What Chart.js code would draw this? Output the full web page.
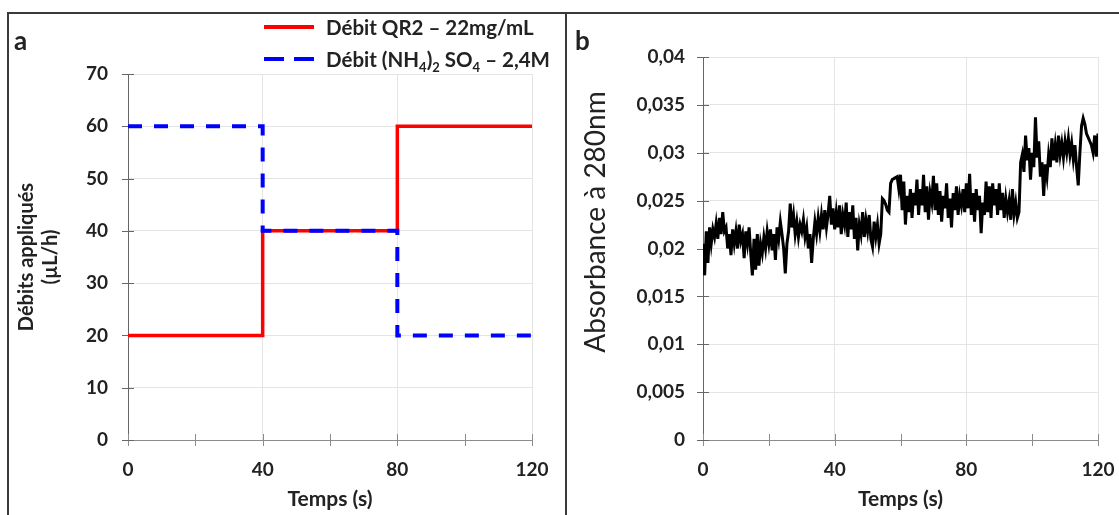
<!DOCTYPE html>
<html>
<head>
<meta charset="utf-8">
<script src="https://cdn.jsdelivr.net/npm/chart.js@4"></script>
<style>
  body { margin: 0; background: #fff; width: 1119px; height: 515px; overflow: hidden; position: relative; font-family: Lato, sans-serif; color: #222; }
  .frame { position: absolute; left: 7px; top: 12px; width: 1112px; height: 503px; border-top: 2px solid #3a3a3a; border-left: 2px solid #3a3a3a; box-sizing: border-box; }
  .divider { position: absolute; left: 565px; top: 12px; width: 2px; height: 503px; background: #3a3a3a; }
  canvas { position: absolute; }
  .tag { position: absolute; font-weight: bold; font-size: 26px; line-height: 26px; }
  .legend { position: absolute; left: 264px; top: 13px; font-weight: bold; font-size: 20.5px; }
  .legend .row { display: flex; align-items: center; height: 28px; margin-bottom: 4px; white-space: nowrap; }
  .legend svg { margin-right: 12px; flex: none; }
  .legend sub { font-size: 13px; line-height: 0; }
  .ytitle { position: absolute; left: 444px; top: 208px; width: 300px; height: 28px; line-height: 28px; font-size: 28px; text-align: center; white-space: nowrap; transform: rotate(-90deg); }
</style>
</head>
<body>
<div class="frame"></div>
<div class="divider"></div>
<canvas id="chartA" width="555" height="501" style="left:9px;top:14px"></canvas>
<canvas id="chartB" width="551" height="501" style="left:568px;top:14px"></canvas>
<div class="tag" style="left:14px;top:27px">a</div>
<div class="tag" style="left:575px;top:27px">b</div>
<div class="legend">
  <div class="row"><svg width="50" height="6"><line x1="0" y1="3" x2="50" y2="3" stroke="#ff0000" stroke-width="4"/></svg><span>Débit QR2 – 22mg/mL</span></div>
  <div class="row"><svg width="50" height="6"><line x1="0" y1="3" x2="50" y2="3" stroke="#0000ff" stroke-width="4" stroke-dasharray="20 10"/></svg><span>Débit (NH<sub>4</sub>)<sub>2</sub> SO<sub>4</sub> – 2,4M</span></div>
</div>
<div class="ytitle">Absorbance à 280nm</div>
<script>
// panel a : applied flow rates
const timeA = [0, 40, 40, 80, 80, 120];
const qr2Flow = [20, 20, 40, 40, 60, 60];
const sulfateFlow = [60, 60, 40, 40, 20, 20];
const yLabelsA = ['0', '10', '20', '30', '40', '50', '60', '70'];
const xLabels = ['0', '', '40', '', '80', '', '120'];

// panel b : absorbance at 280 nm
const absTime = [
  0,0.5,1,1.5,2,2.5,3,3.5,4,4.5,5,5.5,6,6.5,7,7.5,8,8.5,9,9.5,
  10,10.5,11,11.5,12,12.5,13,13.5,14,14.5,15,15.5,16,16.5,17,17.5,18,18.5,19,19.5,
  20,20.5,21,21.5,22,22.5,23,23.5,24,24.5,25,25.5,26,26.5,27,27.5,28,28.5,29,29.5,
  30,30.5,31,31.5,32,32.5,33,33.5,34,34.5,35,35.5,36,36.5,37,37.5,38,38.5,39,39.5,
  40,40.5,41,41.5,42,42.5,43,43.5,44,44.5,45,45.5,46,46.5,47,47.5,48,48.5,49,49.5,
  50,50.5,51,51.5,52,52.5,53,53.5,54,54.5,55,55.5,56,56.5,57,57.5,58,58.5,59,59.5,
  60,60.5,61,61.5,62,62.5,63,63.5,64,64.5,65,65.5,66,66.5,67,67.5,68,68.5,69,69.5,
  70,70.5,71,71.5,72,72.5,73,73.5,74,74.5,75,75.5,76,76.5,77,77.5,78,78.5,79,79.5,
  80,80.5,81,81.5,82,82.5,83,83.5,84,84.5,85,85.5,86,86.5,87,87.5,88,88.5,89,89.5,
  90,90.5,91,91.5,92,92.5,93,93.5,94,94.5,95,95.5,96,96.5,97,97.5,98,98.5,99,99.5,
  100,100.5,101,101.5,102,102.5,103,103.5,104,104.5,105,105.5,106,106.5,107,107.5,108,108.5,109,109.5,
  110,110.5,111,111.5,112,112.5,113,113.5,114,114.5,115,115.5,116,116.5,117,117.5,118,118.5,119,119.5,
  120
];
const absorbance = [
  0.0205,0.0172,0.0218,0.0185,0.0222,0.0205,0.0220,0.0212,0.0226,0.0210,0.0232,0.0215,0.0238,0.0218,0.0222,0.0200,0.0215,0.0193,0.0220,0.0205,
  0.0218,0.0200,0.0225,0.0208,0.0215,0.0190,0.0218,0.0205,0.0222,0.0195,0.0172,0.0210,0.0178,0.0215,0.0182,0.0205,0.0195,0.0212,0.0200,0.0218,
  0.0205,0.0220,0.0198,0.0215,0.0188,0.0222,0.0210,0.0228,0.0215,0.0200,0.0174,0.0205,0.0218,0.0247,0.0222,0.0235,0.0215,0.0228,0.0212,0.0225,
  0.0218,0.0230,0.0212,0.0222,0.0200,0.0215,0.0185,0.0210,0.0228,0.0215,0.0232,0.0218,0.0235,0.0220,0.0240,0.0222,0.0236,0.0255,0.0225,0.0242,
  0.0220,0.0238,0.0222,0.0245,0.0215,0.0235,0.0225,0.0248,0.0212,0.0238,0.0220,0.0245,0.0210,0.0232,0.0198,0.0225,0.0215,0.0238,0.0212,0.0230,
  0.0218,0.0235,0.0210,0.0202,0.0228,0.0212,0.0225,0.0205,0.0215,0.0252,0.0250,0.0246,0.0240,0.0238,0.0268,0.0272,0.0273,0.0274,0.0275,0.0262,
  0.0277,0.0240,0.0270,0.0225,0.0255,0.0238,0.0262,0.0232,0.0258,0.0245,0.0272,0.0235,0.0262,0.0245,0.0277,0.0238,0.0265,0.0230,0.0258,0.0248,
  0.0276,0.0240,0.0268,0.0235,0.0260,0.0228,0.0255,0.0242,0.0268,0.0232,0.0252,0.0222,0.0258,0.0240,0.0265,0.0235,0.0255,0.0245,0.0262,0.0238,
  0.0268,0.0242,0.0278,0.0235,0.0258,0.0228,0.0262,0.0240,0.0255,0.0216,0.0248,0.0235,0.0270,0.0238,0.0265,0.0232,0.0268,0.0245,0.0262,0.0235,
  0.0268,0.0240,0.0258,0.0232,0.0252,0.0238,0.0250,0.0230,0.0262,0.0236,0.0248,0.0232,0.0238,0.0290,0.0298,0.0280,0.0318,0.0292,0.0305,0.0272,
  0.0300,0.0285,0.0337,0.0295,0.0312,0.0275,0.0290,0.0255,0.0288,0.0275,0.0298,0.0285,0.0315,0.0292,0.0308,0.0290,0.0318,0.0298,0.0310,0.0295,
  0.0312,0.0300,0.0315,0.0298,0.0310,0.0293,0.0308,0.0285,0.0266,0.0300,0.0328,0.0336,0.0330,0.0320,0.0316,0.0312,0.0308,0.0300,0.0318,0.0296,
  0.0320
];
const yLabelsB = ['0', '0,005', '0,01', '0,015', '0,02', '0,025', '0,03', '0,035', '0,04'];

Chart.defaults.font.family = 'Lato, sans-serif';
Chart.defaults.color = '#222';

function xy(xs, ys) {
  return xs.map((x, i) => ({ x: x, y: ys[i] }));
}

// tick marks that cross the axis line (Excel style), minor ones included
const crossTicks = {
  id: 'crossTicks',
  beforeDatasetsDraw(chart) {
    const ctx = chart.ctx;
    const xs = chart.scales.x, ys = chart.scales.y;
    ctx.save();
    ctx.lineWidth = 1;
    ctx.strokeStyle = '#8c8c8c';
    xs.ticks.forEach(t => {
      const px = Math.round(xs.getPixelForValue(t.value)) + 0.5;
      ctx.beginPath();
      ctx.moveTo(px, ys.bottom - 6);
      ctx.lineTo(px, ys.bottom + 6);
      ctx.stroke();
    });
    ctx.strokeStyle = '#666';
    ys.ticks.forEach(t => {
      const py = Math.round(ys.getPixelForValue(t.value)) + 0.5;
      ctx.beginPath();
      ctx.moveTo(xs.left - 6, py);
      ctx.lineTo(xs.left + 6, py);
      ctx.stroke();
    });
    ctx.restore();
  }
};

function xScale() {
  return {
    type: 'linear', min: 0, max: 120,
    afterFit(s) { s.height = 75; s.paddingLeft = 0; s.paddingRight = 0; },
    border: { color: '#8c8c8c', width: 1 },
    grid: {
      drawTicks: false,
      color: c => (c.tick && c.tick.value % 40 === 0 && c.tick.value !== 0) ? '#e4e4e4' : 'rgba(0,0,0,0)'
    },
    ticks: {
      stepSize: 20, padding: 18, maxRotation: 0, autoSkip: false,
      font: { size: 19, weight: 'bold' },
      callback: (v, i) => xLabels[i]
    },
    title: { display: true, text: 'Temps (s)', font: { size: 21, weight: 'bold' }, padding: { top: 0, bottom: 3 } }
  };
}

new Chart(document.getElementById('chartA'), {
  type: 'line',
  data: {
    datasets: [{
      label: 'Débit QR2 – 22mg/mL',
      data: xy(timeA, qr2Flow),
      borderColor: '#ff0000', borderWidth: 3.5, pointRadius: 0, order: 2,
      borderCapStyle: 'butt', borderJoinStyle: 'miter'
    }, {
      label: 'Débit (NH4)2 SO4 – 2,4M',
      data: xy(timeA, sulfateFlow),
      borderColor: '#0000ff', borderWidth: 4, borderDash: [14, 12], pointRadius: 0, order: 1,
      borderCapStyle: 'butt', borderJoinStyle: 'miter'
    }]
  },
  options: {
    responsive: false, animation: false, devicePixelRatio: 1,
    layout: { padding: { left: 0, right: 32, top: 60, bottom: 0 } },
    plugins: { legend: { display: false }, tooltip: { enabled: false } },
    scales: {
      x: xScale(),
      y: {
        min: 0, max: 70,
        afterFit(s) { s.width = 119; },
        border: { color: '#666', width: 1 },
        grid: { drawTicks: false, color: '#e4e4e4' },
        ticks: {
          stepSize: 10, padding: 20,
          font: { size: 19, weight: 'bold' },
          callback: (v, i) => yLabelsA[i]
        },
        title: { display: true, text: ['Débits appliqués', '(µL/h)'], font: { size: 20, weight: 'bold' }, padding: { top: 6, bottom: 0 } }
      }
    }
  },
  plugins: [crossTicks]
});

new Chart(document.getElementById('chartB'), {
  type: 'line',
  data: {
    datasets: [{
      label: 'Absorbance à 280nm',
      data: xy(absTime, absorbance),
      borderColor: '#000', borderWidth: 3, pointRadius: 0, tension: 0
    }]
  },
  options: {
    responsive: false, animation: false, devicePixelRatio: 1,
    layout: { padding: { left: 0, right: 21, top: 43, bottom: 0 } },
    plugins: { legend: { display: false }, tooltip: { enabled: false } },
    scales: {
      x: xScale(),
      y: {
        min: 0, max: 0.04,
        afterFit(s) { s.width = 135; },
        border: { color: '#666', width: 1 },
        grid: { drawTicks: false, color: '#e4e4e4' },
        ticks: {
          stepSize: 0.005, padding: 18,
          font: { size: 19, weight: 'bold' },
          callback: (v, i) => yLabelsB[i]
        },
        title: { display: false }
      }
    }
  },
  plugins: [crossTicks]
});
</script>
</body>
</html>
